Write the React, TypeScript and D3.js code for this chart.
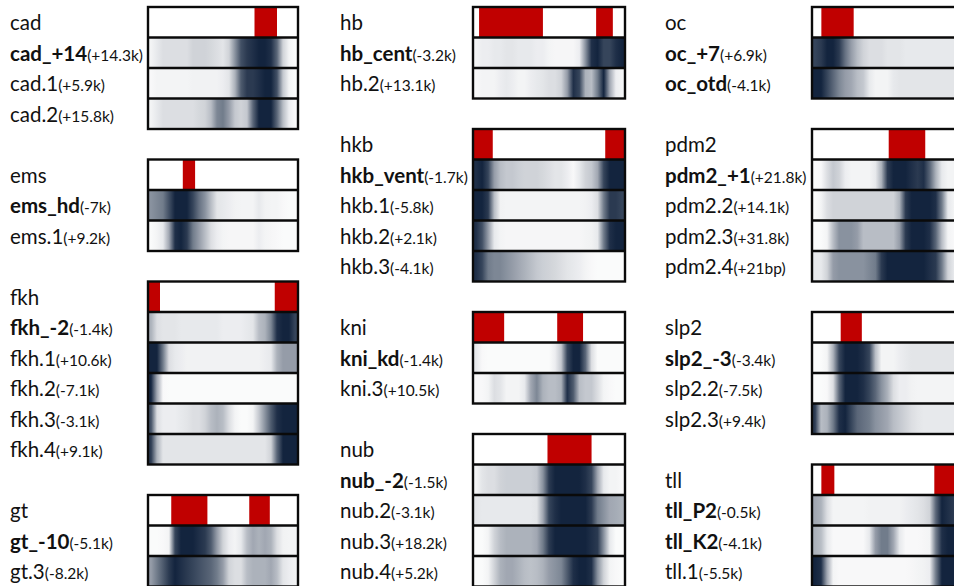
import React from "react";
import * as d3 from "d3";

// ---------- data ----------
const groupNames = ["cad", "ems", "fkh", "gt", "hb", "hkb", "kni", "nub", "oc", "pdm2", "slp2", "tll"];

const cadLabels = ["cad_+14", "cad.1", "cad.2"];
const cadOffsets = ["(+14.3k)", "(+5.9k)", "(+15.8k)"];
const cadExpr = [[0.71, 0.86]];
const cadProfiles = [
  [0.05, 0.1, 0.15, 0.15, 0.15, 0.15, 0.15, 0.2, 0.2, 0.2, 0.18, 0.15, 0.12, 0.2, 0.5, 0.8, 0.9, 0.95, 1, 1, 0.95, 0.7, 0.2, 0.05, 0.02],
  [0.03, 0.05, 0.05, 0.05, 0.05, 0.05, 0.05, 0.06, 0.06, 0.06, 0.06, 0.06, 0.08, 0.12, 0.35, 0.75, 0.9, 0.9, 0.95, 1, 1, 0.8, 0.25, 0.05, 0.02],
  [0.05, 0.1, 0.15, 0.15, 0.15, 0.15, 0.15, 0.15, 0.18, 0.2, 0.3, 0.55, 0.6, 0.45, 0.25, 0.2, 0.25, 0.7, 1, 1, 1, 0.7, 0.3, 0.08, 0.03],
];

const emsLabels = ["ems_hd", "ems.1"];
const emsOffsets = ["(-7k)", "(+9.2k)"];
const emsExpr = [[0.232, 0.314]];
const emsProfiles = [
  [0.5, 0.55, 0.6, 0.8, 1, 1, 1, 0.85, 0.65, 0.5, 0.3, 0.12, 0.1, 0.08, 0.06, 0.05, 0.05, 0.05, 0.1, 0.06, 0.05, 0.05, 0.03, 0.02, 0.02],
  [0.02, 0.05, 0.1, 0.4, 0.95, 1, 0.9, 0.6, 0.45, 0.3, 0.15, 0.08, 0.05, 0.04, 0.04, 0.04, 0.04, 0.04, 0.08, 0.05, 0.04, 0.03, 0.02, 0.02, 0.02],
];

const fkhLabels = ["fkh_-2", "fkh.1", "fkh.2", "fkh.3", "fkh.4"];
const fkhOffsets = ["(-1.4k)", "(+10.6k)", "(-7.1k)", "(-3.1k)", "(+9.1k)"];
const fkhExpr = [[0, 0.08], [0.845, 1]];
const fkhProfiles = [
  [0.35, 0.15, 0.12, 0.12, 0.12, 0.1, 0.1, 0.1, 0.1, 0.1, 0.1, 0.1, 0.08, 0.08, 0.08, 0.08, 0.1, 0.12, 0.3, 0.35, 0.55, 0.95, 1, 1, 0.85],
  [1, 1, 0.6, 0.15, 0.1, 0.08, 0.06, 0.06, 0.06, 0.06, 0.06, 0.06, 0.06, 0.06, 0.06, 0.06, 0.06, 0.06, 0.06, 0.08, 0.1, 0.35, 0.45, 0.45, 0.45],
  [1, 0.4, 0.03, 0.02, 0.02, 0.02, 0.02, 0.02, 0.02, 0.02, 0.02, 0.02, 0.02, 0.02, 0.02, 0.02, 0.02, 0.02, 0.02, 0.02, 0.02, 0.02, 0.02, 0.02, 0.02],
  [0.8, 0.15, 0.08, 0.08, 0.08, 0.1, 0.12, 0.15, 0.15, 0.2, 0.3, 0.35, 0.3, 0.15, 0.05, 0.02, 0.02, 0.05, 0.25, 0.5, 0.75, 0.95, 1, 1, 1],
  [0.9, 0.35, 0.12, 0.12, 0.12, 0.12, 0.12, 0.12, 0.12, 0.12, 0.12, 0.12, 0.12, 0.12, 0.12, 0.12, 0.12, 0.12, 0.12, 0.12, 0.2, 0.7, 1, 1, 1],
];

const gtLabels = ["gt_-10", "gt.3"];
const gtOffsets = ["(-5.1k)", "(-8.2k)"];
const gtExpr = [[0.155, 0.396], [0.675, 0.812]];
const gtProfiles = [
  [0.02, 0.02, 0.03, 0.05, 0.85, 1, 1, 1, 0.95, 0.9, 0.75, 0.45, 0.2, 0.08, 0.05, 0.1, 0.3, 0.4, 0.35, 0.4, 0.35, 0.15, 0.06, 0.05, 0.05],
  [0.45, 0.6, 0.75, 0.9, 1, 0.95, 0.9, 0.85, 0.8, 0.75, 0.7, 0.6, 0.45, 0.2, 0.15, 0.15, 0.3, 0.35, 0.35, 0.35, 0.4, 0.3, 0.12, 0.08, 0.06],
];

const hbLabels = ["hb_cent", "hb.2"];
const hbOffsets = ["(-3.2k)", "(+13.1k)"];
const hbExpr = [[0.04, 0.46], [0.81, 0.92]];
const hbProfiles = [
  [0.05, 0.08, 0.08, 0.1, 0.1, 0.12, 0.12, 0.1, 0.1, 0.1, 0.08, 0.08, 0.05, 0.04, 0.04, 0.04, 0.04, 0.08, 0.5, 0.95, 1, 0.85, 0.85, 0.95, 1],
  [0.03, 0.05, 0.05, 0.05, 0.08, 0.1, 0.08, 0.05, 0.05, 0.08, 0.1, 0.12, 0.15, 0.15, 0.2, 0.45, 0.95, 0.85, 0.35, 0.3, 0.6, 1, 0.4, 0.08, 0.05],
];

const hkbLabels = ["hkb_vent", "hkb.1", "hkb.2", "hkb.3"];
const hkbOffsets = ["(-1.7k)", "(-5.8k)", "(+2.1k)", "(-4.1k)"];
const hkbExpr = [[0, 0.13], [0.87, 1]];
const hkbProfiles = [
  [0.95, 1, 0.85, 0.45, 0.3, 0.25, 0.25, 0.22, 0.2, 0.2, 0.2, 0.18, 0.15, 0.12, 0.12, 0.08, 0.03, 0.1, 0.2, 0.25, 0.4, 0.85, 1, 1, 1],
  [1, 1, 0.9, 0.3, 0.06, 0.05, 0.05, 0.05, 0.05, 0.05, 0.05, 0.05, 0.05, 0.05, 0.05, 0.05, 0.05, 0.05, 0.06, 0.08, 0.15, 0.6, 0.9, 0.9, 0.85],
  [0.95, 0.8, 0.45, 0.1, 0.05, 0.04, 0.04, 0.04, 0.04, 0.04, 0.04, 0.04, 0.04, 0.04, 0.04, 0.04, 0.04, 0.04, 0.05, 0.06, 0.1, 0.6, 0.95, 1, 1],
  [0.95, 0.85, 0.6, 0.55, 0.55, 0.5, 0.45, 0.4, 0.35, 0.3, 0.25, 0.22, 0.2, 0.18, 0.15, 0.12, 0.1, 0.08, 0.05, 0.03, 0.02, 0.02, 0.02, 0.02, 0.02],
];

const kniLabels = ["kni_kd", "kni.3"];
const kniOffsets = ["(-1.4k)", "(+10.5k)"];
const kniExpr = [[0, 0.205], [0.554, 0.724]];
const kniProfiles = [
  [0.1, 0.03, 0.02, 0.02, 0.02, 0.02, 0.02, 0.02, 0.02, 0.02, 0.02, 0.02, 0.02, 0.08, 0.25, 0.85, 1, 1, 0.7, 0.15, 0.02, 0.02, 0.02, 0.02, 0.02],
  [0.03, 0.03, 0.05, 0.15, 0.12, 0.05, 0.05, 0.05, 0.1, 0.4, 0.55, 0.35, 0.3, 0.3, 0.35, 0.95, 0.75, 0.3, 0.25, 0.25, 0.15, 0.05, 0.03, 0.02, 0.02],
];

const nubLabels = ["nub_-2", "nub.2", "nub.3", "nub.4"];
const nubOffsets = ["(-1.5k)", "(-3.1k)", "(+18.2k)", "(+5.2k)"];
const nubExpr = [[0.49, 0.78]];
const nubProfiles = [
  [0.05, 0.12, 0.15, 0.15, 0.2, 0.22, 0.22, 0.22, 0.22, 0.22, 0.25, 0.5, 0.9, 1, 1, 1, 1, 1, 0.95, 0.85, 0.4, 0.1, 0.05, 0.05, 0.03],
  [0.12, 0.1, 0.1, 0.1, 0.1, 0.1, 0.1, 0.1, 0.1, 0.1, 0.12, 0.4, 0.85, 0.95, 1, 1, 1, 1, 1, 0.9, 0.6, 0.5, 0.4, 0.38, 0.35],
  [0.02, 0.02, 0.05, 0.2, 0.3, 0.35, 0.35, 0.35, 0.35, 0.35, 0.4, 0.6, 0.9, 1, 1, 1, 1, 1, 1, 0.95, 0.9, 0.5, 0.1, 0.02, 0.02],
  [0.02, 0.02, 0.05, 0.2, 0.35, 0.4, 0.4, 0.35, 0.3, 0.28, 0.3, 0.35, 0.45, 0.5, 0.55, 0.75, 0.95, 1, 1, 0.95, 0.5, 0.2, 0.05, 0.03, 0.02],
];

const ocLabels = ["oc_+7", "oc_otd"];
const ocOffsets = ["(+6.9k)", "(-4.1k)"];
const ocExpr = [[0.062, 0.276]];
const ocProfiles = [
  [0.85, 0.9, 1, 1, 0.9, 0.65, 0.45, 0.3, 0.2, 0.15, 0.15, 0.15, 0.12, 0.12, 0.12, 0.1, 0.1, 0.1, 0.1, 0.1, 0.1, 0.1, 0.1, 0.1, 0.1],
  [1, 1, 0.85, 0.7, 0.55, 0.45, 0.4, 0.3, 0.25, 0.1, 0.05, 0.05, 0.05, 0.1, 0.12, 0.12, 0.12, 0.12, 0.12, 0.12, 0.12, 0.12, 0.12, 0.12, 0.12],
];

const pdm2Labels = ["pdm2_+1", "pdm2.2", "pdm2.3", "pdm2.4"];
const pdm2Offsets = ["(+21.8k)", "(+14.1k)", "(+31.8k)", "(+21bp)"];
const pdm2Expr = [[0.508, 0.75]];
const pdm2Profiles = [
  [0.02, 0.03, 0.15, 0.25, 0.2, 0.08, 0.05, 0.05, 0.05, 0.05, 0.1, 0.35, 0.9, 1, 1, 1, 0.95, 0.9, 0.95, 0.7, 0.35, 0.1, 0.05, 0.05, 0.05],
  [0.02, 0.05, 0.15, 0.2, 0.2, 0.2, 0.2, 0.2, 0.2, 0.2, 0.2, 0.2, 0.2, 0.2, 0.35, 0.9, 1, 1, 1, 1, 0.95, 0.6, 0.1, 0.05, 0.05],
  [0.02, 0.02, 0.05, 0.3, 0.5, 0.5, 0.5, 0.45, 0.3, 0.3, 0.3, 0.3, 0.3, 0.3, 0.45, 0.9, 1, 1, 1, 0.95, 0.7, 0.3, 0.05, 0.03, 0.03],
  [0.1, 0.1, 0.2, 0.45, 0.5, 0.5, 0.5, 0.5, 0.5, 0.55, 0.6, 0.9, 1, 1, 1, 1, 1, 1, 1, 0.95, 0.9, 0.6, 0.2, 0.1, 0.1],
];

const slp2Labels = ["slp2_-3", "slp2.2", "slp2.3"];
const slp2Offsets = ["(-3.4k)", "(-7.5k)", "(+9.4k)"];
const slp2Expr = [[0.19, 0.33]];
const slp2Profiles = [
  [0.02, 0.02, 0.05, 0.35, 0.85, 1, 1, 1, 0.95, 0.85, 0.3, 0.05, 0.05, 0.05, 0.08, 0.1, 0.12, 0.12, 0.12, 0.12, 0.12, 0.12, 0.12, 0.12, 0.12],
  [0.02, 0.02, 0.03, 0.15, 0.7, 1, 1, 1, 0.95, 0.85, 0.7, 0.5, 0.35, 0.15, 0.08, 0.08, 0.06, 0.05, 0.05, 0.05, 0.05, 0.05, 0.05, 0.05, 0.05],
  [0.9, 0.3, 0.35, 0.6, 0.95, 1, 0.85, 0.7, 0.65, 0.6, 0.5, 0.45, 0.4, 0.3, 0.25, 0.2, 0.15, 0.12, 0.1, 0.1, 0.1, 0.1, 0.1, 0.1, 0.1],
];

const tllLabels = ["tll_P2", "tll_K2", "tll.1"];
const tllOffsets = ["(-0.5k)", "(-4.1k)", "(-5.5k)"];
const tllExpr = [[0.062, 0.148], [0.81, 1]];
const tllProfiles = [
  [0.4, 0.35, 0.15, 0.05, 0.05, 0.05, 0.05, 0.05, 0.05, 0.06, 0.06, 0.06, 0.06, 0.06, 0.06, 0.08, 0.1, 0.12, 0.15, 0.2, 0.7, 1, 0.95, 0.9, 0.9],
  [0.35, 0.3, 0.1, 0.03, 0.03, 0.03, 0.03, 0.03, 0.03, 0.1, 0.45, 0.6, 0.6, 0.4, 0.1, 0.03, 0.03, 0.03, 0.04, 0.05, 0.6, 0.95, 1, 1, 1],
  [1, 0.95, 0.4, 0.05, 0.03, 0.03, 0.03, 0.03, 0.03, 0.03, 0.03, 0.03, 0.03, 0.03, 0.03, 0.03, 0.04, 0.05, 0.06, 0.08, 0.6, 1, 1, 1, 1],
];

// ---------- layout (kept separate from data) ----------
const groupColumn = [0, 0, 0, 0, 1, 1, 1, 1, 2, 2, 2, 2];
const groupStartRow = [0, 5, 9, 16, 0, 4, 10, 14, 0, 4, 10, 15];
const columnLabelX = [10, 340, 665];
const columnBoxX = [148, 473, 812];
const columnBoxW = [150, 152, 151];
const ROW_H = 30.5;
const TOP = 7;

const groups = [
  { labels: cadLabels, offsets: cadOffsets, expr: cadExpr, profiles: cadProfiles },
  { labels: emsLabels, offsets: emsOffsets, expr: emsExpr, profiles: emsProfiles },
  { labels: fkhLabels, offsets: fkhOffsets, expr: fkhExpr, profiles: fkhProfiles },
  { labels: gtLabels, offsets: gtOffsets, expr: gtExpr, profiles: gtProfiles },
  { labels: hbLabels, offsets: hbOffsets, expr: hbExpr, profiles: hbProfiles },
  { labels: hkbLabels, offsets: hkbOffsets, expr: hkbExpr, profiles: hkbProfiles },
  { labels: kniLabels, offsets: kniOffsets, expr: kniExpr, profiles: kniProfiles },
  { labels: nubLabels, offsets: nubOffsets, expr: nubExpr, profiles: nubProfiles },
  { labels: ocLabels, offsets: ocOffsets, expr: ocExpr, profiles: ocProfiles },
  { labels: pdm2Labels, offsets: pdm2Offsets, expr: pdm2Expr, profiles: pdm2Profiles },
  { labels: slp2Labels, offsets: slp2Offsets, expr: slp2Expr, profiles: slp2Profiles },
  { labels: tllLabels, offsets: tllOffsets, expr: tllExpr, profiles: tllProfiles },
].map((g, i) => ({ ...g, name: groupNames[i], col: groupColumn[i], start: groupStartRow[i] }));

const FONT = "Lato, 'Open Sans', sans-serif";
const TEXT_COLOR = "#111111";
const RED = "#c00000";
const LINE = "#0a0a0a";

const color = d3
  .scaleLinear<string>()
  .domain([0, 1])
  .range(["#ffffff", "#13243e"])
  .interpolate(d3.interpolateRgb)
  .clamp(true);

const rowY = d3.scaleLinear().domain([0, 1]).range([TOP, TOP + ROW_H]);

export default function App() {
  return (
    <svg
      width={954}
      height={586}
      style={{ position: "absolute", left: 0, top: 0, background: "#fff" }}
    >
      <defs>
        {groups.map((g) =>
          g.profiles.map((p, ri) => {
            const stop = d3.scaleLinear().domain([0, p.length - 1]).range([0.5 / p.length, 1 - 0.5 / p.length]);
            return (
              <linearGradient key={`${g.name}-${ri}`} id={`grad-${g.name}-${ri}`} x1="0" x2="1" y1="0" y2="0">
                {p.map((v, i) => (
                  <stop key={i} offset={`${(stop(i) * 100).toFixed(2)}%`} stopColor={color(v)} />
                ))}
              </linearGradient>
            );
          })
        )}
      </defs>
      {groups.map((g) => {
        const bx = columnBoxX[g.col];
        const bw = columnBoxW[g.col];
        const lx = columnLabelX[g.col];
        const x = d3.scaleLinear().domain([0, 1]).range([bx, bx + bw]);
        const nRows = g.labels.length + 1;
        const top = rowY(g.start);
        const bottom = rowY(g.start + nRows);
        return (
          <g key={g.name}>
            <rect x={bx} y={top} width={bw} height={ROW_H} fill="#fff" />
            {g.expr.map(([a, b], i) => (
              <rect key={i} x={x(a)} y={top} width={x(b) - x(a)} height={ROW_H} fill={RED} />
            ))}
            {g.profiles.map((p, ri) => (
              <rect
                key={ri}
                x={bx}
                y={rowY(g.start + 1 + ri)}
                width={bw}
                height={ROW_H}
                fill={`url(#grad-${g.name}-${ri})`}
              />
            ))}
            {d3.range(1, nRows).map((k) => (
              <line
                key={k}
                x1={bx}
                x2={bx + bw}
                y1={rowY(g.start + k)}
                y2={rowY(g.start + k)}
                stroke={LINE}
                strokeWidth={2.4}
              />
            ))}
            <rect x={bx} y={top} width={bw} height={bottom - top} fill="none" stroke={LINE} strokeWidth={2.4} />
            <text x={lx} y={top + 23} fontFamily={FONT} fontSize={20.5} fill={TEXT_COLOR}>
              {g.name}
            </text>
            {g.labels.map((lab, ri) => (
              <text
                key={lab}
                x={lx}
                y={rowY(g.start + 1 + ri) + 23}
                fontFamily={FONT}
                fontSize={20.5}
                fill={TEXT_COLOR}
                fontWeight={lab.includes("_") ? 700 : 400}
              >
                {lab}
                <tspan fontSize={15.5} fontWeight={400}>
                  {g.offsets[ri]}
                </tspan>
              </text>
            ))}
          </g>
        );
      })}
    </svg>
  );
}
